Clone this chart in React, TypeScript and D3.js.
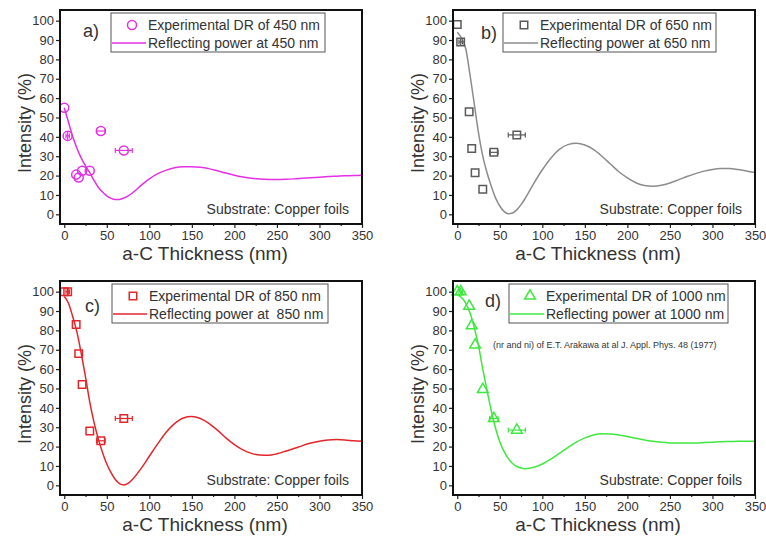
import React, { useRef, useEffect } from 'react';
import * as d3 from 'd3';

// measured film thickness (nm) of the samples, same for all panels
const thickness = [0, 4, 14, 17, 21, 30, 43, 70];
const thicknessErr = [0, 2, 0, 0, 0, 0, 5, 10];
const intensityErr = [0, 2, 0, 0, 0, 0, 0, 0];

// experimental diffuse reflectance (%)
const dr450 = [55, 40.5, 20.5, 19, 22.5, 22.5, 43, 33];
const dr650 = [98, 89, 53, 34, 21.5, 13, 32, 41];
const dr850 = [100, 100, 83, 68, 52, 28, 23, 34.5];
const dr1000 = [100, 100, 92.5, 82.5, 72.5, 49.5, 34.5, 28.5];

// calculated reflecting power
const curveThickness = [0, 5, 10, 15, 20, 25, 30, 35, 40, 45, 50, 55, 60, 65, 70, 75, 80, 90, 100, 110, 120, 130, 140, 150, 160, 170, 180, 190, 200, 210, 220, 230, 240, 250, 260, 270, 280, 290, 300, 310, 320, 330, 340, 350];
const rp450 = [55, 47.5, 40, 34, 29, 25, 21.5, 17.5, 14, 11.5, 9.5, 8.2, 7.6, 7.7, 8.4, 9.5, 11, 14.8, 18.3, 21, 22.8, 24, 24.5, 24.6, 24.3, 23.6, 22.5, 21.3, 20.2, 19.3, 18.6, 18.2, 18, 18, 18.1, 18.3, 18.6, 18.9, 19.2, 19.5, 19.7, 19.9, 20, 20.2];
const rp650 = [94, 91, 85.5, 72, 57, 42, 30, 21.5, 14.5, 8.5, 4.3, 1.5, 0.3, 0.7, 2.3, 5, 8.3, 16, 23, 29, 33.5, 36, 36.7, 35.8, 33.5, 30, 26, 22, 18.8, 16.3, 14.9, 14.5, 15, 16.2, 17.8, 19.5, 21, 22.3, 23.2, 23.6, 23.6, 23.1, 22.4, 21.6];
const rp850 = [97.5, 94, 87, 79, 68, 56, 43, 32.5, 24, 17, 11, 6.5, 3, 0.9, 0.2, 1, 3, 8.5, 15, 21.5, 27.5, 32, 34.8, 35.5, 34.5, 32, 28.5, 24.5, 21, 18.3, 16.5, 15.6, 15.5, 16.3, 17.6, 19, 20.5, 21.8, 22.8, 23.4, 23.6, 23.4, 23, 22.7];
const rp1000 = [98.5, 97, 94, 89, 81.5, 72, 60, 49, 38.5, 29.5, 22.5, 17.5, 13.8, 11.3, 9.7, 8.9, 8.6, 9.3, 11, 13.5, 16.5, 19.5, 22.3, 24.5, 26, 26.6, 26.5, 26, 25.2, 24.3, 23.4, 22.7, 22.2, 21.9, 21.8, 21.8, 21.9, 22.1, 22.3, 22.5, 22.6, 22.7, 22.8, 22.8];

const xTicks = [0, 50, 100, 150, 200, 250, 300, 350];
const xMinorTicks = [25, 75, 125, 175, 225, 275, 325];
const yTicks = [0, 10, 20, 30, 40, 50, 60, 70, 80, 90, 100];

const font = '"Liberation Sans", Arial, sans-serif';
const textColor = '#333';

const panels = [
  { tag: 'a)', wl: '450', dr: dr450, rp: rp450, color: '#e530e5', markColor: '#e530e5', shape: d3.symbolCircle, size: 64,
    x0: 60, x1: 362, y0: 10, y1: 224, tagX: 83, tagY: 37, legX: 111, legW: 214, legend: 'Reflecting power at 450 nm' },
  { tag: 'b)', wl: '650', dr: dr650, rp: rp650, color: '#8c8c8c', markColor: '#5a5a5a', shape: d3.symbolSquare, size: 56,
    x0: 453, x1: 755, y0: 10, y1: 224, tagX: 481, tagY: 39, legX: 503, legW: 213, legend: 'Reflecting power at 650 nm' },
  { tag: 'c)', wl: '850', dr: dr850, rp: rp850, color: '#e3262b', markColor: '#e3262b', shape: d3.symbolSquare, size: 56,
    x0: 60, x1: 362, y0: 281, y1: 495, tagX: 85, tagY: 312, legX: 112, legW: 216, legend: 'Reflecting power at  850 nm' },
  { tag: 'd)', wl: '1000', dr: dr1000, rp: rp1000, color: '#3fe83f', markColor: '#3fe83f', shape: d3.symbolTriangle, size: 50,
    x0: 453, x1: 755, y0: 281, y1: 495, tagX: 485, tagY: 307, legX: 509, legW: 219, legend: 'Reflecting power at 1000 nm' },
];

const App = () => {
  const svgRef = useRef(null);

  useEffect(() => {
    const svg = d3.select(svgRef.current);
    svg.selectAll('*').remove();

    panels.forEach((p) => {
      const g = svg.append('g');
      const x = d3.scaleLinear().domain([-5, 350]).range([p.x0, p.x1]);
      const y = d3.scaleLinear().domain([-5, 105.5]).range([p.y1, p.y0]);

      // axes
      const yAxis = g.append('g')
        .attr('transform', `translate(${p.x0},0)`)
        .call(d3.axisLeft(y).tickValues(yTicks).tickSize(4).tickPadding(2));
      const xAxis = g.append('g')
        .attr('transform', `translate(0,${p.y1})`)
        .call(d3.axisBottom(x).tickValues(xTicks).tickSize(4).tickPadding(3));
      g.append('g')
        .attr('transform', `translate(0,${p.y1})`)
        .call(d3.axisBottom(x).tickValues(xMinorTicks).tickSize(2).tickFormat(() => ''));
      g.selectAll('.domain').remove();
      g.selectAll('.tick line').attr('stroke', '#222').attr('stroke-width', 1.2);
      [yAxis, xAxis].forEach((a) => a.selectAll('text')
        .attr('fill', textColor).style('font-family', font).style('font-size', '13px'));

      // curve
      const line = d3.line()
        .x((d) => x(d[0]))
        .y((d) => y(d[1]))
        .curve(d3.curveMonotoneX);
      g.append('path')
        .datum(curveThickness.map((t, i) => [t, p.rp[i]]))
        .attr('d', line)
        .attr('fill', 'none')
        .attr('stroke', p.color)
        .attr('stroke-width', 1.5);

      // error bars
      const pts = thickness.map((t, i) => ({ t, v: p.dr[i], ex: thicknessErr[i], ey: intensityErr[i] }));
      pts.filter((d) => d.ex > 0).forEach((d) => {
        const cy = y(d.v);
        g.append('line').attr('x1', x(d.t - d.ex)).attr('x2', x(d.t + d.ex)).attr('y1', cy).attr('y2', cy)
          .attr('stroke', p.markColor).attr('stroke-width', 1.2);
        [d.t - d.ex, d.t + d.ex].forEach((e) => {
          g.append('line').attr('x1', x(e)).attr('x2', x(e)).attr('y1', cy - 2.5).attr('y2', cy + 2.5)
            .attr('stroke', p.markColor).attr('stroke-width', 1.2);
        });
      });
      pts.filter((d) => d.ey > 0).forEach((d) => {
        g.append('line').attr('x1', x(d.t)).attr('x2', x(d.t)).attr('y1', y(d.v - d.ey)).attr('y2', y(d.v + d.ey))
          .attr('stroke', p.markColor).attr('stroke-width', 1.2);
      });

      // markers
      const sym = d3.symbol().type(p.shape).size(p.size);
      g.selectAll('.mark')
        .data(pts)
        .enter()
        .append('path')
        .attr('d', sym)
        .attr('transform', (d) => `translate(${x(d.t)},${y(d.v)})`)
        .attr('fill', 'none')
        .attr('stroke', p.markColor)
        .attr('stroke-width', 1.5);

      // frame
      g.append('rect')
        .attr('x', p.x0).attr('y', p.y0)
        .attr('width', p.x1 - p.x0).attr('height', p.y1 - p.y0)
        .attr('fill', 'none').attr('stroke', '#111').attr('stroke-width', 2);

      // legend
      const ly = p.y0 + 3;
      g.append('rect')
        .attr('x', p.legX).attr('y', ly).attr('width', p.legW).attr('height', 39)
        .attr('fill', 'white').attr('stroke', '#555').attr('stroke-width', 1);
      g.append('path')
        .attr('d', sym)
        .attr('transform', `translate(${p.legX + 21},${ly + 12})`)
        .attr('fill', 'none').attr('stroke', p.markColor).attr('stroke-width', 1.5);
      g.append('line')
        .attr('x1', p.legX + 1).attr('x2', p.legX + 35).attr('y1', ly + 30).attr('y2', ly + 30)
        .attr('stroke', p.color).attr('stroke-width', 1.5);
      [`Experimental DR of ${p.wl} nm`, p.legend].forEach((s, i) => {
        g.append('text')
          .attr('x', p.legX + 37).attr('y', ly + 12 + i * 18).attr('dy', '0.35em')
          .attr('fill', textColor).style('font-family', font).style('font-size', '14px')
          .style('white-space', 'pre')
          .text(s);
      });

      // panel tag
      g.append('text')
        .attr('x', p.tagX).attr('y', p.tagY)
        .attr('fill', textColor).style('font-family', font).style('font-size', '18px')
        .text(p.tag);

      // substrate note
      g.append('text')
        .attr('x', p.x1 - 13).attr('y', p.y1 - 10)
        .attr('text-anchor', 'end')
        .attr('fill', textColor).style('font-family', font).style('font-size', '14px')
        .text('Substrate: Copper foils');

      // axis titles
      g.append('text')
        .attr('x', (p.x0 + p.x1) / 2 - 6).attr('y', p.y1 + 36)
        .attr('text-anchor', 'middle')
        .attr('fill', textColor).style('font-family', font).style('font-size', '19px')
        .text('a-C Thickness (nm)');
      g.append('text')
        .attr('transform', `translate(${p.x0 - 29},${(p.y0 + p.y1) / 2 + 6}) rotate(-90)`)
        .attr('text-anchor', 'middle')
        .attr('fill', textColor).style('font-family', font).style('font-size', '18px')
        .text('Intensity (%)');

      if (p.wl === '1000') {
        g.append('text')
          .attr('x', p.x0 + 40).attr('y', p.y0 + 67)
          .attr('fill', textColor).style('font-family', font).style('font-size', '9px')
          .text('(nr and ni) of E.T. Arakawa at al J. Appl. Phys. 48 (1977)');
      }
    });
  }, []);

  return (
    <svg ref={svgRef} width={766} height={541}
      style={{ position: 'absolute', left: 0, top: 0, background: 'white' }} />
  );
};

export default App;
